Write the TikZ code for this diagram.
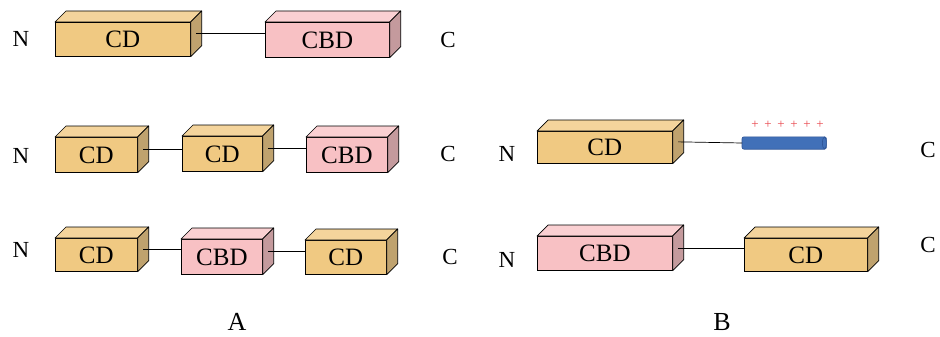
\documentclass[tikz,border=0pt]{standalone}
\usepackage{fontspec}
\setmainfont{Liberation Serif}
\usetikzlibrary{calc}
\definecolor{cdfront}{HTML}{F0C982}
\definecolor{cdtop}{HTML}{F4D49C}
\definecolor{cdside}{HTML}{BFA26E}
\definecolor{cbdfront}{HTML}{F8C1C4}
\definecolor{cbdtop}{HTML}{FAD0D2}
\definecolor{cbdside}{HTML}{C49A9D}
\definecolor{cylblue}{HTML}{4170B8}
\definecolor{cyledge}{HTML}{2F5597}
\definecolor{plusred}{HTML}{E8454B}
\tikzset{
  cdbox/.style={draw=black, line width=0.7pt, fill=cdfront, inner sep=0pt, font=\fontsize{25}{25}\selectfont},
  cbdbox/.style={draw=black, line width=0.7pt, fill=cbdfront, inner sep=0pt, font=\fontsize{25}{25}\selectfont},
  lbl/.style={font=\fontsize{23}{23}\selectfont, inner sep=0pt},
  panel/.style={font=\fontsize{26}{26}\selectfont, inner sep=0pt},
  link/.style={line width=0.7pt, black},
  plus/.style={text=plusred, font=\fontsize{13}{13}\selectfont, inner sep=0pt}
}
\newcommand\dd{11}
% #1 name, #2 x, #3 y, #4 w, #5 h, #6 kind (cd/cbd), #7 text
\newcommand\mybox[7]{%
  \node[#6box, minimum width=#4, minimum height=#5, anchor=north west] (#1) at (#2,#3) {#7};
  \filldraw[fill=#6top, draw=black, line width=0.7pt, line join=round]
    (#1.north west) -- ++(\dd,-\dd) -- ([shift={(\dd,-\dd)}]#1.north east) -- (#1.north east) -- cycle;
  \filldraw[fill=#6side, draw=black, line width=0.7pt, line join=round]
    (#1.north east) -- ++(\dd,-\dd) -- ([shift={(\dd,-\dd)}]#1.south east) -- (#1.south east) -- cycle;
}
\newcommand\mylink[2]{%
  \draw[link] let \p1=([shift={(5.5,-5.5)}]#1.east) in (\p1) -- (\p1 -| #2.west);
}
\begin{document}
\begin{tikzpicture}[x=1pt,y=-1pt]
\useasboundingbox (0,0) rectangle (940,337);
% Panel A row 1
\mybox{a1}{55}{22}{135}{34}{cd}{CD}
\mybox{a2}{265}{22}{124}{35}{cbd}{CBD}
\mylink{a1}{a2}
\node[lbl] (n1) at (21,39) {N};
\node[lbl] (c1) at (448,40) {C};
% Panel A row 2
\mybox{b1}{55}{137}{82}{35}{cd}{CD}
\mybox{b2}{182}{136}{80}{35}{cd}{CD}
\mybox{b3}{306}{137}{81}{35}{cbd}{CBD}
\mylink{b1}{b2}
\mylink{b2}{b3}
\node[lbl] (n2) at (21,156) {N};
\node[lbl] (c2) at (448,154) {C};
% Panel A row 3
\mybox{d1}{55}{238}{82}{33}{cd}{CD}
\mybox{d2}{181}{239}{81}{35}{cbd}{CBD}
\mybox{d3}{305}{240}{81}{34}{cd}{CD}
\mylink{d1}{d2}
\mylink{d2}{d3}
\node[lbl] (n3) at (21,250) {N};
\node[lbl] (c3) at (450,257) {C};
% Panel B row 1
\mybox{e1}{537}{131}{135}{32}{cd}{CD}
\node[lbl] (n4) at (507,154) {N};
\node[lbl] (c4) at (928,150) {C};
\node[minimum width=84, minimum height=12, inner sep=0pt, anchor=west] (cyl) at (742,143) {};
\fill[cylblue, draw=cyledge, line width=0.6pt, rounded corners=2pt]
  (cyl.north west) rectangle (cyl.south east);
\draw[cyledge, line width=0.6pt] ([xshift=-2]cyl.east) ellipse [x radius=2, y radius=6];
\draw[link] let \p1=([shift={(5.5,-5.5)}]e1.east) in (\p1) -- (cyl.west);
\foreach \i/\x in {1/755,2/768,3/781,4/794,5/807,6/820}
  \node[plus] (p\i) at (\x,125) {+};
% Panel B row 2
\mybox{f1}{537}{236}{135}{34}{cbd}{CBD}
\mybox{f2}{744}{238}{123}{33}{cd}{CD}
\mylink{f1}{f2}
\node[lbl] (n5) at (507,260) {N};
\node[lbl] (c5) at (928,245) {C};
% Panel labels
\node[panel] (la) at (237,322) {A};
\node[panel] (lb) at (722,322) {B};
\end{tikzpicture}
\end{document}
